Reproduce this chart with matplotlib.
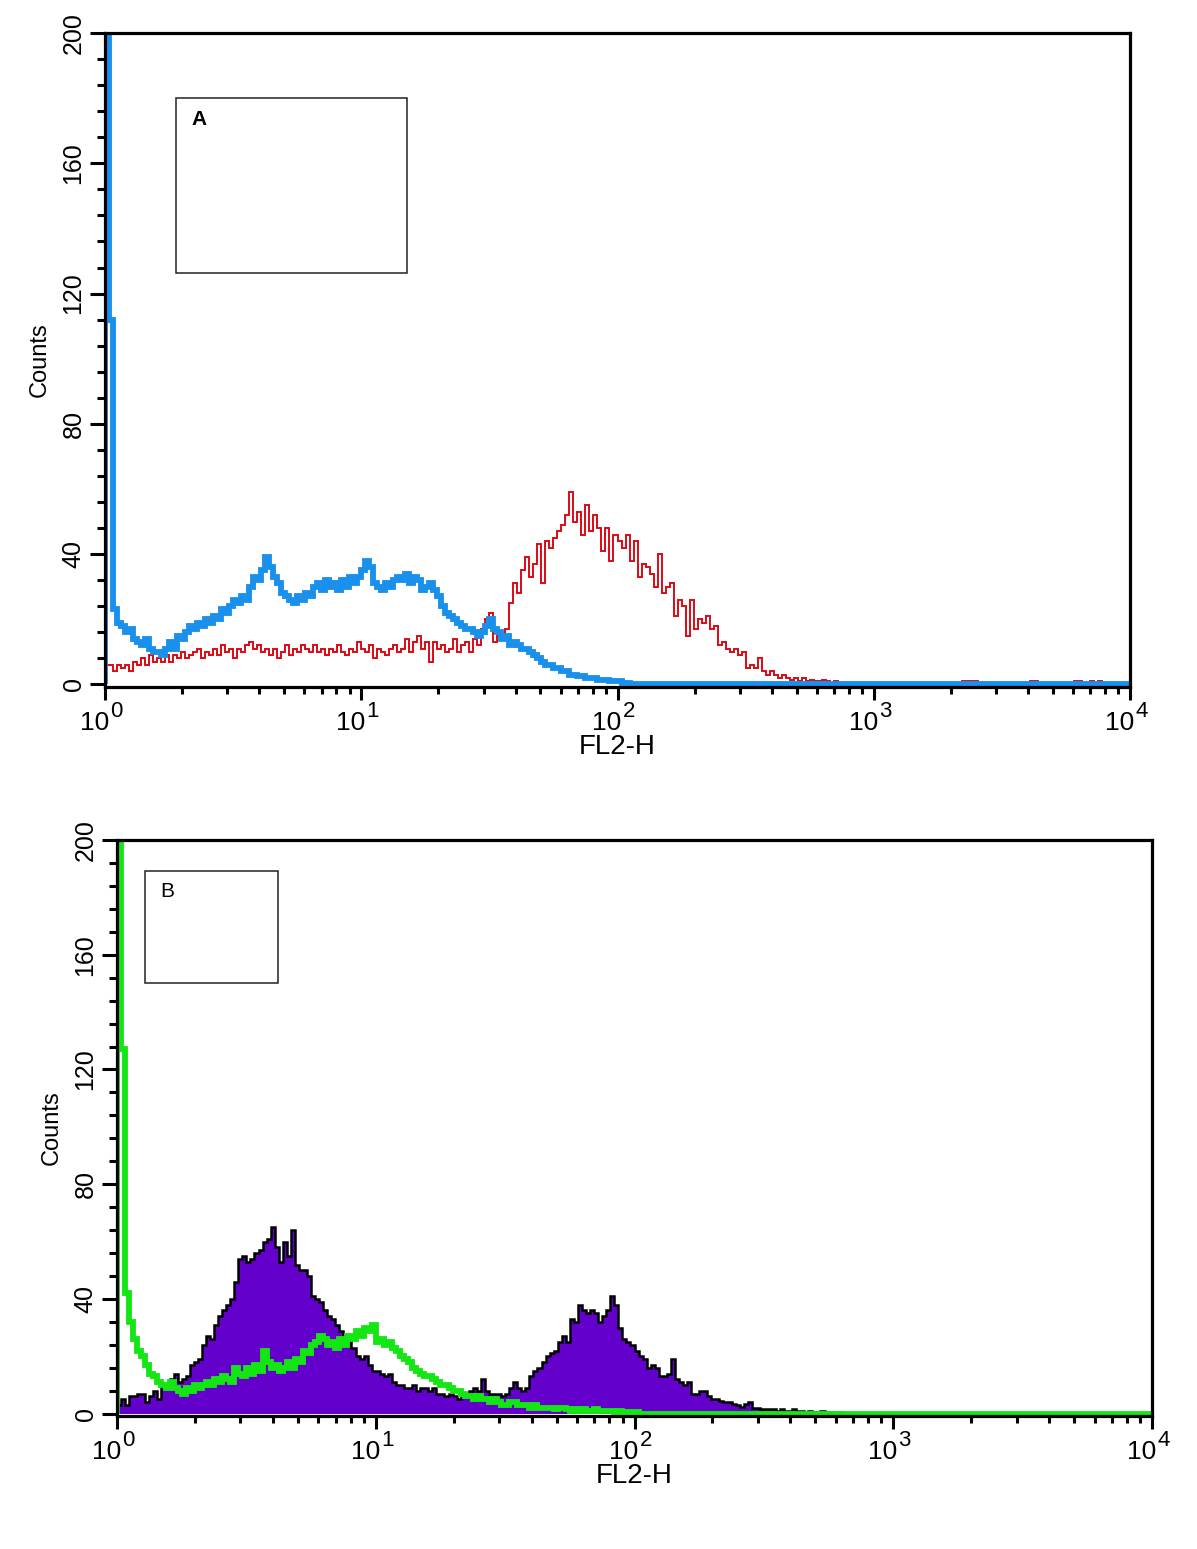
import numpy as np
import matplotlib
matplotlib.use("Agg")
from matplotlib import pyplot as plt
from matplotlib import font_manager
from matplotlib.patches import Rectangle
from matplotlib.ticker import MultipleLocator, LogLocator, NullFormatter, FixedLocator

# 256 log channels over 10^0 .. 10^4 (FL2-H)
n_ch = 256

# panel A: blue (thick) and red (thin) histograms, counts per channel
blue_a = [
    250, 112, 23, 19, 18, 16, 17, 14, 13, 12, 14, 11, 10, 10, 9, 11,
    13, 11, 15, 14, 16, 18, 17, 19, 18, 20, 19, 21, 20, 23, 22, 24,
    26, 25, 27, 26, 30, 33, 32, 35, 39, 36, 33, 31, 28, 27, 26, 25,
    27, 26, 28, 27, 30, 31, 29, 32, 30, 31, 29, 32, 30, 33, 31, 33,
    35, 38, 36, 31, 30, 29, 31, 30, 32, 33, 32, 34, 31, 33, 32, 29,
    30, 31, 29, 27, 24, 22, 21, 20, 19, 18, 17, 17, 16, 15, 16, 18,
    20, 17, 16, 14, 15, 12, 13, 12, 11, 11, 10, 9, 8, 7, 6, 6,
    5, 5, 4, 4, 3, 3, 2.5, 2.5, 2, 2, 2, 1.5, 1.5, 1.5, 1, 1,
    1, 0.5, 0.5, 0, 0, 0, 0, 0, 0, 0, 0, 0, 0, 0, 0, 0,
    0, 0, 0, 0, 0, 0, 0, 0, 0, 0, 0, 0, 0, 0, 0, 0,
    0, 0, 0, 0, 0, 0, 0, 0, 0, 0, 0, 0, 0, 0, 0, 0,
    0, 0, 0, 0, 0, 0, 0, 0, 0, 0, 0, 0, 0, 0, 0, 0,
    0, 0, 0, 0, 0, 0, 0, 0, 0, 0, 0, 0, 0, 0, 0, 0,
    0, 0, 0, 0, 0, 0, 0, 0, 0, 0, 0, 0, 0, 0, 0, 0,
    0, 0, 0, 0, 0, 0, 0, 0, 0, 0, 0, 0, 0, 0, 0, 0,
    0, 0, 0, 0, 0, 0, 0, 0, 0, 0, 0, 0, 0, 0, 0, 0,
]

red_a = [
    6, 6, 4, 6, 5, 6, 4, 7, 6, 8, 6, 9, 7, 8, 7, 9,
    7, 9, 8, 10, 8, 9, 10, 11, 8, 10, 9, 11, 9, 12, 10, 11,
    8, 11, 10, 12, 13, 11, 12, 10, 11, 9, 11, 8, 10, 12, 9, 11,
    10, 12, 11, 10, 12, 10, 11, 9, 11, 10, 12, 10, 9, 11, 10, 13,
    11, 10, 12, 8, 11, 10, 9, 11, 12, 10, 11, 14, 10, 13, 15, 11,
    13, 7, 13, 11, 12, 10, 11, 14, 10, 12, 13, 10, 14, 12, 17, 20,
    22, 13, 15, 14, 17, 25, 31, 28, 35, 39, 33, 37, 43, 31, 44, 42,
    45, 47, 49, 52, 59, 50, 53, 46, 55, 47, 52, 48, 41, 48, 38, 46,
    44, 42, 46, 38, 44, 33, 37, 36, 34, 30, 40, 28, 30, 31, 21, 26,
    24, 15, 26, 17, 20, 19, 21, 17, 18, 12, 13, 11, 10, 11, 9, 10,
    5, 6, 5, 8, 4, 3, 4, 3, 2, 3, 2, 1.5, 2, 1, 2, 1,
    1.5, 1, 1, 1.5, 1, 0.5, 1, 0.5, 0, 0, 0, 0, 0, 0, 0, 0,
    0, 0, 0, 0, 0, 0, 0, 0, 0, 0, 0, 0, 0, 0, 0, 0,
    0, 0, 0, 0, 0, 0, 1, 1, 1, 1, 0, 0, 0, 0, 0, 0,
    0, 0, 0, 0, 0, 0, 0, 1, 1, 0, 0, 0, 0, 0, 0, 0,
    0, 0, 1, 1, 0, 0, 1, 0, 1, 0, 0, 0, 0, 0, 0, 0,
]

# panel B: green (thick line) and purple (filled, black outline)
green_b = [
    250, 127, 42, 32, 26, 22, 20, 17, 14, 13, 11, 10, 9, 11, 9, 8,
    7, 9, 8, 10, 9, 10, 11, 10, 12, 11, 13, 12, 11, 16, 14, 13,
    16, 14, 17, 15, 22, 18, 16, 17, 15, 16, 18, 16, 19, 18, 22, 21,
    24, 25, 27, 26, 24, 25, 23, 26, 24, 27, 26, 29, 27, 30, 29, 31,
    25, 26, 24, 25, 23, 22, 20, 19, 18, 16, 15, 14, 13, 13, 12, 11,
    10, 10, 9, 8, 8, 7, 6, 6, 5, 6, 5, 5, 4, 5, 4, 3,
    3, 4, 4, 3, 3, 3, 2, 3, 2, 2, 2, 2, 1.5, 2, 2, 1.5,
    1, 1.5, 1, 1.5, 1, 1, 1.5, 1, 1, 1, 1, 0.5, 1, 0.5, 0.5, 0.5,
    0.5, 0, 0, 0, 0, 0, 0, 0, 0, 0, 0, 0, 0, 0, 0, 0,
    0, 0, 0, 0, 0, 0, 0, 0, 0, 0, 0, 0, 0, 0, 0, 0,
    0, 0, 0, 0, 0, 0, 0, 0, 0, 0, 0, 0, 0, 0, 0, 0,
    0, 0, 0, 0, 0, 0, 0, 0, 0, 0, 0, 0, 0, 0, 0, 0,
    0, 0, 0, 0, 0, 0, 0, 0, 0, 0, 0, 0, 0, 0, 0, 0,
    0, 0, 0, 0, 0, 0, 0, 0, 0, 0, 0, 0, 0, 0, 0, 0,
    0, 0, 0, 0, 0, 0, 0, 0, 0, 0, 0, 0, 0, 0, 0, 0,
    0, 0, 0, 0, 0, 0, 0, 0, 0, 0, 0, 0, 0, 0, 0, 0,
]

purple_b = [
    3, 5, 3, 6, 6, 7, 7, 4, 6, 8, 5, 10, 9, 12, 14, 11,
    12, 13, 17, 18, 19, 24, 27, 26, 31, 34, 36, 38, 40, 46, 54, 55,
    53, 54, 56, 57, 60, 61, 65, 58, 53, 60, 55, 64, 52, 50, 50, 48,
    41, 40, 39, 36, 34, 33, 31, 29, 27, 26, 23, 20, 19, 20, 17, 15,
    15, 14, 13, 14, 11, 10, 10, 9, 9, 10, 8, 9, 9, 8, 9, 7,
    7, 6, 7, 6, 5, 6, 7, 8, 9, 8, 12, 8, 7, 7, 7, 6,
    7, 9, 11, 9, 8, 9, 13, 15, 16, 18, 20, 21, 22, 25, 27, 25,
    33, 32, 38, 36, 35, 36, 35, 32, 34, 36, 41, 38, 30, 26, 25, 24,
    22, 20, 19, 16, 17, 16, 13, 13, 14, 19, 12, 11, 10, 11, 7, 7,
    8, 8, 6, 5, 5, 4.5, 4, 4, 3.5, 3, 2.5, 3.5, 4, 2, 2, 1.5,
    1.5, 1.5, 1.5, 1, 1.5, 1, 1, 1.5, 1, 1, 0.5, 1, 0.5, 0.5, 1, 0.5,
    0.5, 0, 0.5, 0, 0, 0, 0, 0, 0, 0, 0, 0, 0, 0, 0, 0,
    0, 0, 0, 0, 0, 0, 0, 0, 0, 0, 0, 0, 0, 0, 0, 0,
    0, 0, 0, 0, 0, 0, 0, 0, 0, 0, 0, 0, 0, 0, 0, 0,
    0, 0, 0, 0, 0, 0, 0, 0, 0, 0, 0, 0, 0, 0, 0, 0,
    0, 0, 0, 0, 0, 0, 0, 0, 0, 0, 0, 0, 0, 0, 0, 0,
]

y_major = [0, 40, 80, 120, 160, 200]
x_major = [1, 10, 100, 1000, 10000]
x_exponents = ["0", "1", "2", "3", "4"]

edges = np.logspace(0, 4, n_ch + 1)

names = {f.name for f in font_manager.fontManager.ttflist}
narrow = "Liberation Sans Narrow" if "Liberation Sans Narrow" in names else "Liberation Sans"
plt.rcParams["font.family"] = ["Liberation Sans", "DejaVu Sans"]

fig = plt.figure(figsize=(11.97, 15.49), dpi=100)
W, H = 1197.0, 1549.0


def setup_axes(ax):
    ax.set_xscale("log")
    ax.set_xlim(1, 10000)
    # zero line sits just above the frame, as in the cytometer plot
    ax.set_ylim(-0.8, 200)
    for s in ax.spines.values():
        s.set_linewidth(2.3)
        s.set_zorder(5)
    ax.xaxis.set_major_locator(FixedLocator(x_major))
    ax.xaxis.set_minor_locator(LogLocator(base=10, subs=np.arange(2, 10)))
    ax.xaxis.set_minor_formatter(NullFormatter())
    ax.set_xticklabels([])
    ax.yaxis.set_major_locator(FixedLocator(y_major))
    ax.yaxis.set_minor_locator(MultipleLocator(8))
    ax.tick_params(axis="x", which="major", direction="out", length=9, width=2.2)
    ax.tick_params(axis="x", which="minor", direction="out", length=5, width=2.2)
    ax.tick_params(axis="y", which="major", direction="out", length=11, width=2.2,
                   labelsize=18, pad=3)
    ax.tick_params(axis="y", which="minor", direction="out", length=6, width=2.2)
    for lab in ax.get_yticklabels():
        lab.set_rotation(90)
        lab.set_va("center")
        lab.set_family(narrow)
    # 10^n labels: "10" plus a raised exponent
    xt = ax.get_xaxis_transform()
    for xv, ex in zip(x_major, x_exponents):
        ax.annotate("10", xy=(xv, 0), xycoords=xt, xytext=(3, -17.5),
                    textcoords="offset points", ha="right", va="top",
                    fontsize=19, annotation_clip=False)
        ax.annotate(ex, xy=(xv, 0), xycoords=xt, xytext=(3.8, -10),
                    textcoords="offset points", ha="left", va="top",
                    fontsize=16, annotation_clip=False)
    ax.annotate("FL2-H", xy=(0.5, 0), xycoords="axes fraction", xytext=(0, -43),
                textcoords="offset points", ha="center", va="center", fontsize=20)
    ax.set_ylabel("Counts", fontsize=17, family=narrow, labelpad=8)


# panel A
ax1 = fig.add_axes([105 / W, 1 - 687 / H, 1025 / W, 654 / H])
ax1.stairs(red_a, edges, baseline=0, color="#dc0a14", lw=1.4)
ax1.stairs(blue_a, edges, baseline=0, color="#1890ec", lw=4.2)
setup_axes(ax1)
ax1.add_patch(Rectangle((0.0693, 0.633), 0.2253, 0.2676, transform=ax1.transAxes,
                        fill=False, ec="#222222", lw=1.1))
ax1.text(0.0917, 0.867, "A", transform=ax1.transAxes, fontsize=15,
         fontweight="bold", ha="center", va="center")

# panel B
ax2 = fig.add_axes([117 / W, 1 - 1416 / H, 1035 / W, 576 / H])
ax2.stairs(purple_b, edges, baseline=0, fill=True, color="#6400cc", lw=0)
ax2.stairs(purple_b, edges, baseline=0, color="black", lw=1.8)
ax2.stairs(green_b, edges, baseline=0, color="#14e614", lw=4.2)
setup_axes(ax2)
ax2.add_patch(Rectangle((0.027, 0.7517), 0.1286, 0.1943, transform=ax2.transAxes,
                        fill=False, ec="#222222", lw=1.1))
ax2.text(0.0483, 0.910, "B", transform=ax2.transAxes, fontsize=15,
         ha="center", va="center")

fig.savefig("out.png", dpi=100, facecolor="white")
